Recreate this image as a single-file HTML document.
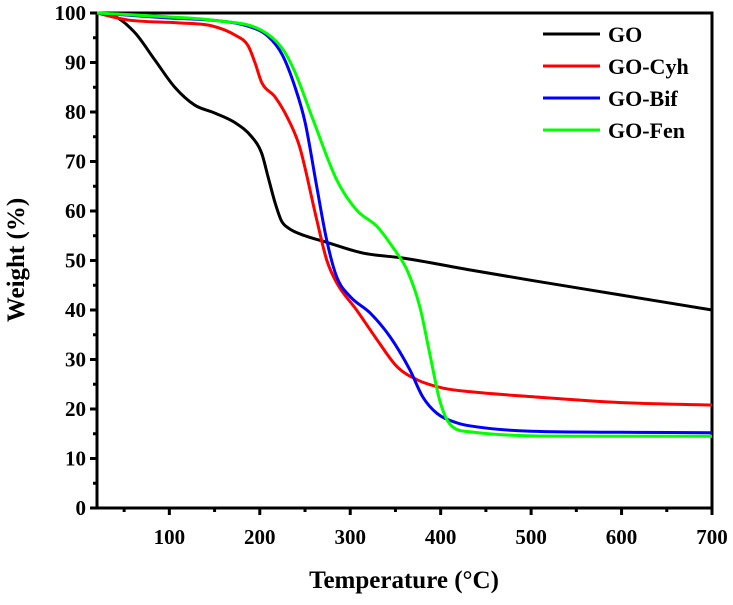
<!DOCTYPE html>
<html><head><meta charset="utf-8"><style>
body{margin:0;background:#fff}
svg text{font-family:"Liberation Serif",serif;font-weight:bold;fill:#000}
</style></head><body>
<svg width="733" height="600">
<g id="axes"></g><g id="series"></g><g id="legend"></g>
</svg>
<script>
const xTicks=[100,200,300,400,500,600,700];
const yTicks=[0,10,20,30,40,50,60,70,80,90,100];
const goT=[20,40,62,84,106,128,150,173,191,202,209,217,224,232,250,270,314,358,432,500,600,700];
const goW=[100,99.3,96,90.5,85,81.4,79.8,77.8,75,71.7,67,61.6,58,56.5,55,53.9,51.5,50.5,48.1,46,43,40];
const cyhT=[20,54,110,147,173,187,195,202,217,231,244,263,274,285,307,330,352,374,403,432,500,600,700];
const cyhW=[100,98.6,98,97.4,95.5,93.4,89.8,86,83,78.7,73,58.2,50.1,45.5,40,33.9,28.5,25.9,24.2,23.5,22.5,21.3,20.8];
const bifT=[20,100,150,184,209,225,239,250,263,274,285,300,322,344,366,380,396,418,432,500,600,700];
const bifW=[100,99,98.5,97.5,95.3,91.5,85,78,64.9,54.1,46.7,42.7,39.4,34.6,27.9,22.5,19.1,17.2,16.6,15.5,15.3,15.2];
const fenT=[20,100,150,202,225,239,259,285,307,330,347,363,377,388,399,410,432,550,700];
const fenW=[100,99.2,98.5,96.5,92.8,88,78.4,66.3,60.2,56.8,52.7,48,40.6,31.1,21.7,17,15.4,14.5,14.5];
const names=['GO','GO-Cyh','GO-Bif','GO-Fen'];
const colors=['#000','#f00','#00f','#0f0'];
const NS='http://www.w3.org/2000/svg';
const X=t=>97+(t-20)*(712-97)/680;
const Y=v=>508-v*4.95;
function mk(tag,at,parent){const e=document.createElementNS(NS,tag);for(const k in at)e.setAttribute(k,at[k]);document.getElementById(parent).appendChild(e);return e;}
let f=mk('rect',{x:X(20),y:Y(100),width:X(700)-X(20),height:Y(0)-Y(100),fill:'none',stroke:'#000','stroke-width':3},'axes');


xTicks.forEach(t=>{
 let l=mk('line',{x1:X(t),x2:X(t),y1:Y(0),y2:Y(0)+7,stroke:'#000','stroke-width':3},'axes');
 
 
 let m=mk('line',{x1:X(t-50),x2:X(t-50),y1:Y(0),y2:Y(0)+4,stroke:'#000','stroke-width':3},'axes');
 
 
 let tx=mk('text',{x:X(t),y:Y(0)+36,'text-anchor':'middle','font-size':21},'axes');tx.textContent=t;
 
 
});
yTicks.forEach(v=>{
 let l=mk('line',{x1:X(20)-7,x2:X(20),y1:Y(v),y2:Y(v),stroke:'#000','stroke-width':3},'axes');
 
 
 if(v<100){let m=mk('line',{x1:X(20)-4,x2:X(20),y1:Y(v+5),y2:Y(v+5),stroke:'#000','stroke-width':3},'axes');
 
 }
 let tx=mk('text',{x:X(20)-11,y:Y(v)+7,'text-anchor':'end','font-size':21},'axes');tx.textContent=v;
 
 
});
let xt=mk('text',{x:404,y:588,'text-anchor':'middle','font-size':25},'axes');xt.textContent='Temperature (°C)';


let yt=mk('text',{x:0,y:0,'text-anchor':'middle','font-size':25,transform:'translate(24,260) rotate(-90)'},'axes');yt.textContent='Weight (%)';


function monotonePath(xs,ys){
 const n=xs.length,d=[],m=[];
 for(let i=0;i<n-1;i++)d.push((ys[i+1]-ys[i])/(xs[i+1]-xs[i]));
 m[0]=d[0];m[n-1]=d[n-2];
 for(let i=1;i<n-1;i++)m[i]=(d[i-1]*d[i]<=0)?0:(d[i-1]+d[i])/2;
 for(let i=0;i<n-1;i++){if(d[i]===0){m[i]=0;m[i+1]=0;continue;}
  const a=m[i]/d[i],b=m[i+1]/d[i],s=a*a+b*b;if(s>9){const t=3/Math.sqrt(s);m[i]=t*a*d[i];m[i+1]=t*b*d[i];}}
 let p='M'+xs[0]+','+ys[0];
 for(let i=0;i<n-1;i++){const h=(xs[i+1]-xs[i])/3;
  p+=` C${xs[i]+h},${ys[i]+m[i]*h} ${xs[i+1]-h},${ys[i+1]-m[i+1]*h} ${xs[i+1]},${ys[i+1]}`;}
 return p;
}
const series=[[goT,goW],[cyhT,cyhW],[bifT,bifW],[fenT,fenW]];
series.forEach((s,i)=>{
 const d=monotonePath(s[0].map(X),s[1].map(Y));
 let p=mk('path',{d:d,fill:'none',stroke:colors[i],'stroke-width':3},'series');
 
 
 const ly=34+i*32;
 let ll=mk('line',{x1:543,x2:600,y1:ly,y2:ly,stroke:colors[i],'stroke-width':3},'legend');
 
 
 let lt=mk('text',{x:608,y:ly+8,'font-size':22},'legend');lt.textContent=names[i];
 
 
});
</script>
</body></html>
